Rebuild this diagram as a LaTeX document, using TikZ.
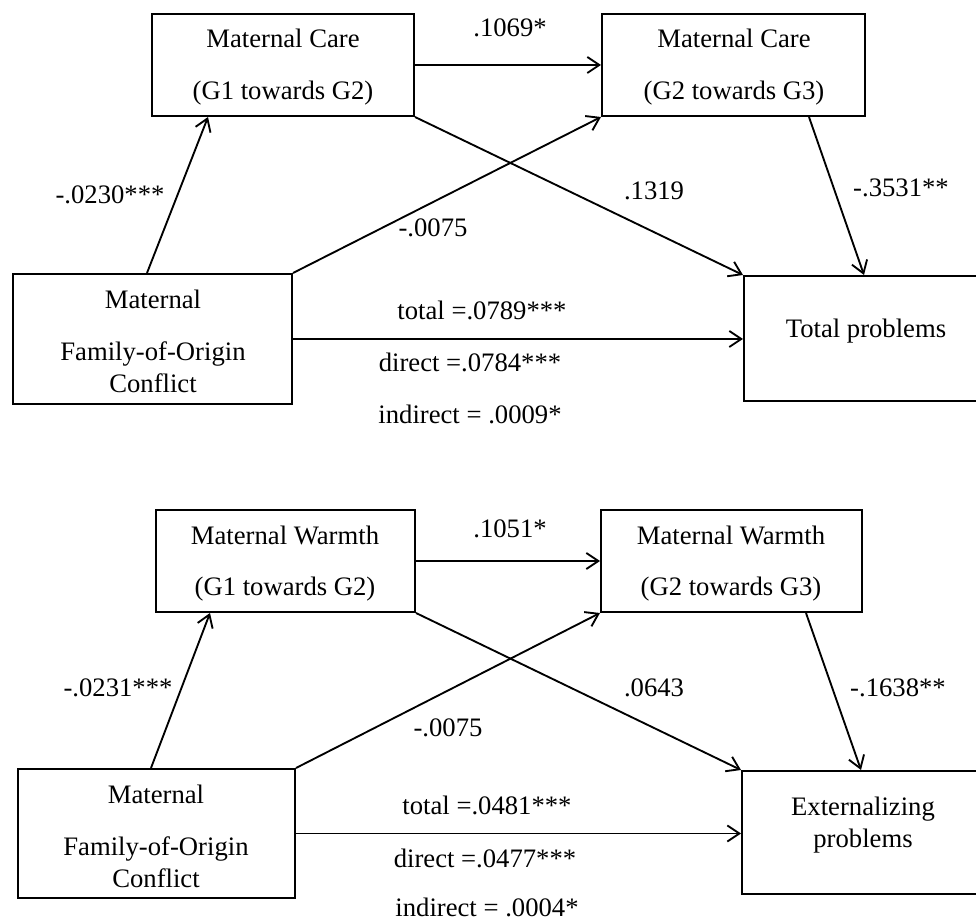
\documentclass[tikz,border=0pt]{standalone}
\usepackage{fontspec}
\setmainfont{Liberation Serif}
\usetikzlibrary{arrows.meta,fit}
\begin{document}
\begin{tikzpicture}[x=0.75pt,y=-0.75pt,
  box/.style={draw,line width=1.5pt,inner sep=0pt},
  txt/.style={anchor=base,inner sep=0pt,font=\fontsize{20pt}{24pt}\selectfont},
  arr/.style={line width=1.4pt,-{Straight Barb[length=9pt,width=12pt]}}]
\useasboundingbox (0,0) rectangle (976,923);
% ---------- top diagram ----------
\node[box,fit={(152,14) (414,116)}] (A) {};
\node[box,fit={(602,14) (865,116)}] (B) {};
\node[box,fit={(13,274) (292,404)}] (C) {};
\node[box,fit={(744,276) (990,401)}] (D) {};
\node[txt] (a1) at (283,48) {Maternal Care};
\node[txt] (a2) at (283,100) {(G1 towards G2)};
\node[txt] (b1) at (734,48) {Maternal Care};
\node[txt] (b2) at (734,100) {(G2 towards G3)};
\node[txt] (c1) at (153,309) {Maternal};
\node[txt] (c2) at (153,361) {Family-of-Origin};
\node[txt] (c3) at (153,393) {Conflict};
\node[txt] (d1) at (866,338) {Total problems};
\draw[arr] (A.east) -- (B.west);
\draw[arr] ([xshift=101.25pt]C.north west) -- ([xshift=42.75pt]A.south west);
\draw[arr] (C.north east) -- (B.south west);
\draw[arr] (A.south east) -- (D.north west);
\draw[arr] ([xshift=156pt]B.south west) -- ([xshift=90.75pt]D.north west);
\draw[arr] (C.east) -- (C.east -| D.west);
\node[txt] (l1) at (510,37) {.1069*};
\node[txt] (l2) at (110,204) {-.0230***};
\node[txt] (l3) at (433,237) {-.0075};
\node[txt] (l4) at (654,200) {.1319};
\node[txt] (l5) at (901,197) {-.3531**};
\node[txt] (l6) at (482,320) {total =.0789***};
\node[txt] (l7) at (470,372) {direct =.0784***};
\node[txt] (l8) at (470,424) {indirect = .0009*};
% ---------- bottom diagram ----------
\node[box,fit={(156,510) (415,612)}] (A2) {};
\node[box,fit={(601,510) (862,612)}] (B2) {};
\node[box,fit={(18,769) (295,898)}] (C2) {};
\node[box,fit={(742,771) (990,894)}] (D2) {};
\node[txt] (e1) at (285,545) {Maternal Warmth};
\node[txt] (e2) at (285,596) {(G1 towards G2)};
\node[txt] (f1) at (731,545) {Maternal Warmth};
\node[txt] (f2) at (731,596) {(G2 towards G3)};
\node[txt] (g1) at (156,803) {Maternal};
\node[txt] (g2) at (156,855) {Family-of-Origin};
\node[txt] (g3) at (156,888) {Conflict};
\node[txt] (h1) at (863,816) {Externalizing};
\node[txt] (h2) at (863,848) {problems};
\draw[arr] (A2.east) -- (B2.west);
\draw[arr] ([xshift=100.5pt]C2.north west) -- ([xshift=41.25pt]A2.south west);
\draw[arr] (C2.north east) -- (B2.south west);
\draw[arr] (A2.south east) -- (D2.north west);
\draw[arr] ([xshift=154.5pt]B2.south west) -- ([xshift=90pt]D2.north west);
\draw[arr] (C2.east) -- (C2.east -| D2.west);
\node[txt] (m1) at (510,538) {.1051*};
\node[txt] (m2) at (118,697) {-.0231***};
\node[txt] (m3) at (448,737) {-.0075};
\node[txt] (m4) at (654,697) {.0643};
\node[txt] (m5) at (898,697) {-.1638**};
\node[txt] (m6) at (487,815) {total =.0481***};
\node[txt] (m7) at (485,868) {direct =.0477***};
\node[txt] (m8) at (487,917) {indirect = .0004*};
\end{tikzpicture}
\end{document}
